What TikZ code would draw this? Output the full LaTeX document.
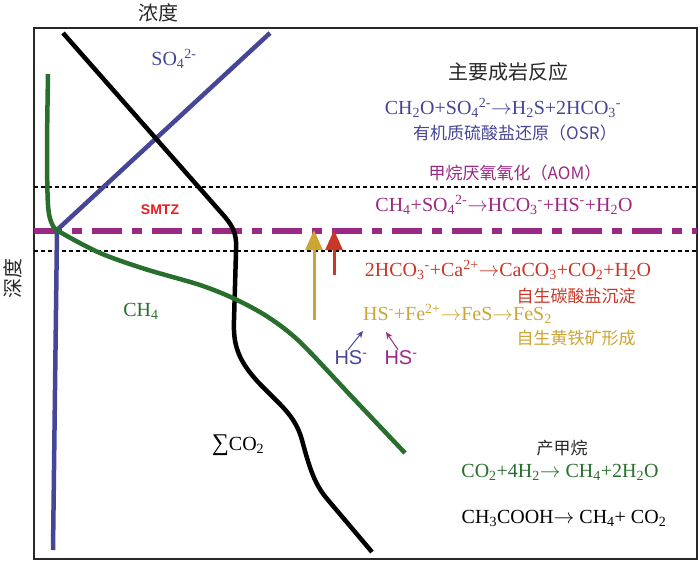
\documentclass[tikz,border=0pt]{standalone}
\usepackage{fontspec}
\setmainfont{Liberation Serif}
\newfontfamily\cjk{Noto Sans CJK SC}
\newfontfamily\arial{Liberation Sans}
\usetikzlibrary{arrows.meta}
\usepackage{color}
\definecolor{sblue}{RGB}{70,70,150}
\definecolor{mgreen}{RGB}{40,110,45}
\definecolor{apurple}{RGB}{155,40,130}
\definecolor{cred}{RGB}{200,55,40}
\definecolor{sred}{RGB}{230,30,30}
\definecolor{pgold}{RGB}{205,165,50}
\definecolor{dgray}{RGB}{40,40,40}
\newcommand{\lo}[1]{\textsubscript{#1}}
\newcommand{\hi}[1]{\textsuperscript{#1}}
\newcommand{\yields}{\ensuremath{\rightarrow}}

\begin{document}
\begin{tikzpicture}
    [x=1pt, y=-1pt,
     fr/.style={draw=dgray, line width=1.5pt},
     zone/.style={draw=black, line width=1.1pt, dash pattern=on 4pt off 3pt},
     smtzline/.style={draw=apurple, line width=5.5pt, dash pattern=on 30pt off 10pt on 10pt off 10pt, dash phase=2pt},
     curve/.style={line width=4.5pt, line join=round},
     flux/.style={line width=3pt, -{Triangle[width=17pt,length=20pt]}},
     hsarrow/.style={line width=1pt, -{Stealth[length=7pt,width=6pt]}},
     eq/.style={inner sep=1pt, font=\fontsize{20}{22}\selectfont},
     cn/.style={inner sep=1pt, font=\cjk\fontsize{17}{20}\selectfont},
     cnbig/.style={inner sep=1pt, text=dgray, font=\cjk\fontsize{20}{22}\selectfont},
     hs/.style={inner sep=1pt, font=\arial\fontsize{20}{22}\selectfont}]

    \useasboundingbox (0,0) rectangle (700,562);

    \draw [fr] (34,28) rectangle (697,559);
    \draw [zone] (34,187) -- (697,187);
    \draw [zone] (34,251) -- (697,251);
    \draw [smtzline] (34,231) -- (697,231);

    \draw [curve, sblue] (270,33) -- (57,230) -- (53,550);
    \draw [curve, black] (63,33) -- (225,217) .. controls (234,228) and (237,235) .. (236,252)
        -- (234,320) .. controls (233,345) and (238,360) .. (258,382)
        .. controls (280,405) and (295,415) .. (302,440)
        .. controls (310,470) and (315,485) .. (328,500) -- (372,552);
    \draw [curve, mgreen] plot [smooth, tension=0.5] coordinates {(48,74) (47,150) (48,205) (52,224) (60,232) (100,253) (145,269) (200,285) (235,299) (268,317) (300,342) (352,397) (405,453)};

    \node [cnbig] (xlab) at (158,13) {浓度};
    \node [cnbig, rotate=90] (ylab) at (13,278) {深度};

    \node [eq, text=sblue] (so4) at (174,59) {SO\lo4\hi{2-}};
    \node [eq, text=mgreen] (ch4) at (141,311) {CH\lo4};
    \node [eq, text=black] (co2) at (238,445) {{\fontsize{24}{24}\selectfont ∑}CO\lo2};
    \node [inner sep=1pt, text=sred, font=\arial\bfseries\fontsize{14}{16}\selectfont] (smtz) at (160,210) {SMTZ};

    \node [cnbig] (title) at (508,72) {主要成岩反应};
    \node [eq, text=sblue] (osr) at (503,108) {CH\lo2O+SO\lo4\hi{2-}\yields H\lo2S+2HCO\lo3\hi{-}};
    \node [cn, text=sblue] (osrname) at (515,133) {有机质硫酸盐还原（OSR）};
    \node [cn, text=apurple] (aomname) at (515,173) {甲烷厌氧氧化（AOM）};
    \node [eq, text=apurple] (aom) at (504,205) {CH\lo4+SO\lo4\hi{2-}\yields HCO\lo3\hi{-}+HS\hi{-}+H\lo2O};

    \node [eq, text=cred] (carb) at (508,270) {2HCO\lo3\hi{-}+Ca\hi{2+}\yields CaCO\lo3+CO\lo2+H\lo2O};
    \node [cn, text=cred] (carbname) at (576,296) {自生碳酸盐沉淀};
    \node [eq, text=pgold, anchor=west] (pyr) at (362,314) {HS\hi{-}+Fe\hi{2+}\yields FeS\yields FeS\lo2};
    \node [cn, text=pgold] (pyrname) at (576,338) {自生黄铁矿形成};

    \node [hs, text=sblue] (hsa) at (351,358) {HS\hi{-}};
    \node [hs, text=apurple] (hsb) at (401,358) {HS\hi{-}};
    \coordinate (pa) at (363,331);
    \coordinate (pb) at (386,332);
    \draw [hsarrow, sblue] ([xshift=-3pt] hsa.north) -- (pa);
    \draw [hsarrow, apurple] ([xshift=-3pt] hsb.north) -- (pb);

    \coordinate (ga) at (314,320);
    \coordinate (gb) at (314,230);
    \coordinate (ra) at (334,275);
    \coordinate (rb) at (334,230);
    \draw [flux, pgold] (ga) -- (gb);
    \draw [flux, cred] (ra) -- (rb);

    \node [cn, text=dgray] (mgname) at (562,448) {产甲烷};
    \node [eq, text=mgreen] (mg) at (560,472) {CO\lo2+4H\lo2\yields\ CH\lo4+2H\lo2O};
    \node [eq, text=black] (ac) at (564,518) {CH\lo3COOH\yields\ CH\lo4+ CO\lo2};
\end{tikzpicture}
\end{document}
